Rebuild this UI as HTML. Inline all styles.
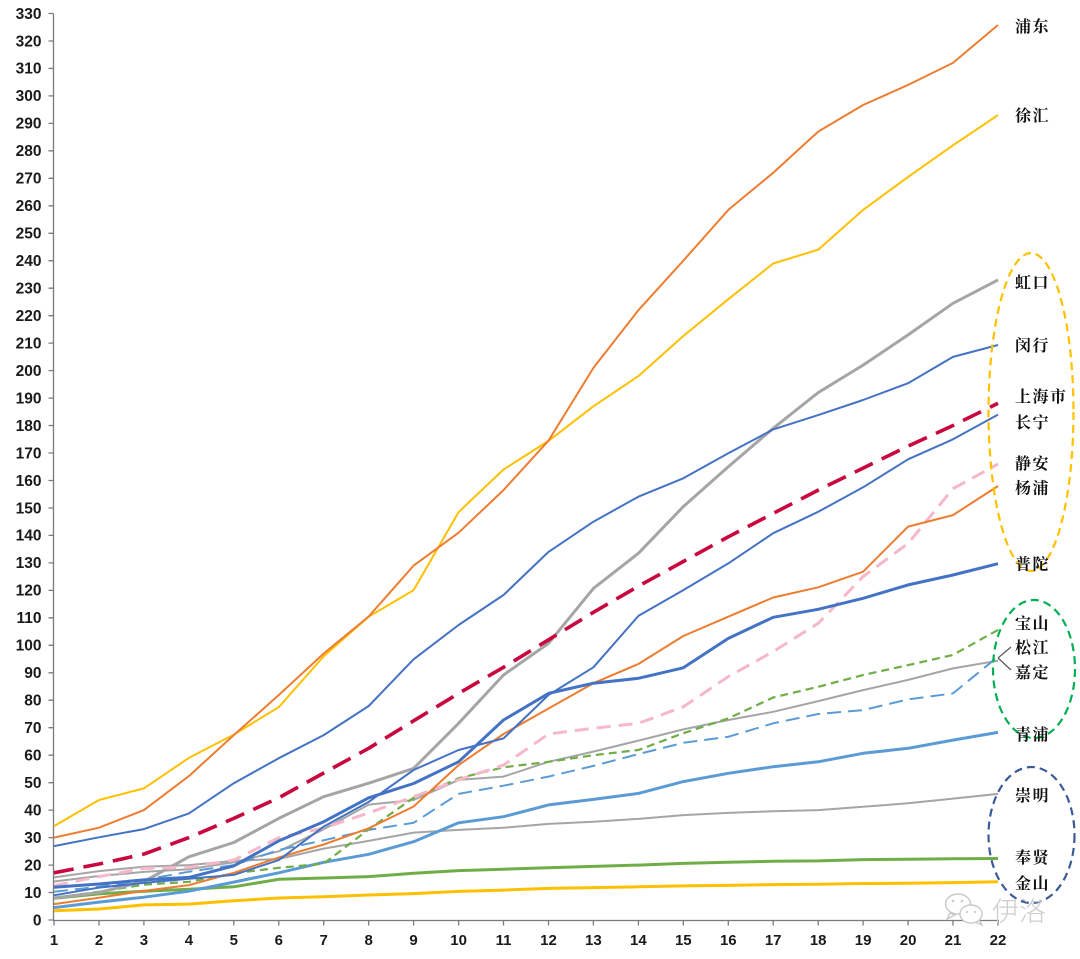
<!DOCTYPE html>
<html>
<head>
<meta charset="utf-8">
<style>
  html, body { margin: 0; padding: 0; background: #ffffff; }
  svg { display: block; }
  .yl { font-family: "Liberation Sans", Arial, sans-serif; font-weight: bold; font-size: 15.5px; fill: #1a1a1a; text-anchor: end; }
  .xl { font-family: "Liberation Sans", Arial, sans-serif; font-weight: bold; font-size: 15px; fill: #1a1a1a; text-anchor: middle; }
  .lab { font-family: "Liberation Serif", "Noto Serif CJK SC", "Noto Sans CJK SC", serif; font-weight: bold; font-size: 16px; fill: #111; letter-spacing: 1.5px; }
  .s { fill: none; stroke-linejoin: round; stroke-linecap: butt; }
</style>
</head>
<body>
<svg width="1080" height="959" viewBox="0 0 1080 959" xmlns="http://www.w3.org/2000/svg">
  <rect x="0" y="0" width="1080" height="959" fill="#ffffff"/>

  <!-- axes -->
  <g stroke="#7a7a7a" stroke-width="1.3" fill="none">
    <line x1="53.5" y1="13.5" x2="53.5" y2="920.5"/>
    <line x1="53" y1="920.5" x2="999" y2="920.5"/>
    <path d="M48.5 920H53.5 M48.5 892.5H53.5 M48.5 865.1H53.5 M48.5 837.6H53.5 M48.5 810.1H53.5 M48.5 782.7H53.5 M48.5 755.2H53.5 M48.5 727.7H53.5 M48.5 700.2H53.5 M48.5 672.8H53.5 M48.5 645.3H53.5 M48.5 617.8H53.5 M48.5 590.4H53.5 M48.5 562.9H53.5 M48.5 535.4H53.5 M48.5 508H53.5 M48.5 480.5H53.5 M48.5 453H53.5 M48.5 425.5H53.5 M48.5 398.1H53.5 M48.5 370.6H53.5 M48.5 343.1H53.5 M48.5 315.7H53.5 M48.5 288.2H53.5 M48.5 260.7H53.5 M48.5 233.3H53.5 M48.5 205.8H53.5 M48.5 178.3H53.5 M48.5 150.8H53.5 M48.5 123.4H53.5 M48.5 95.9H53.5 M48.5 68.4H53.5 M48.5 41H53.5 M48.5 13.5H53.5"/>
    <path d="M54 920V925.5 M99 920V925.5 M143.9 920V925.5 M188.9 920V925.5 M233.8 920V925.5 M278.8 920V925.5 M323.7 920V925.5 M368.7 920V925.5 M413.6 920V925.5 M458.6 920V925.5 M503.5 920V925.5 M548.5 920V925.5 M593.4 920V925.5 M638.4 920V925.5 M683.3 920V925.5 M728.3 920V925.5 M773.2 920V925.5 M818.2 920V925.5 M863.1 920V925.5 M908.1 920V925.5 M953 920V925.5 M998 920V925.5"/>
  </g>

  <!-- y labels -->
  <g class="yl">
    <text x="41.5" y="925.3">0</text>
    <text x="41.5" y="897.8">10</text>
    <text x="41.5" y="870.4">20</text>
    <text x="41.5" y="842.9">30</text>
    <text x="41.5" y="815.4">40</text>
    <text x="41.5" y="788.0">50</text>
    <text x="41.5" y="760.5">60</text>
    <text x="41.5" y="733.0">70</text>
    <text x="41.5" y="705.5">80</text>
    <text x="41.5" y="678.1">90</text>
    <text x="41.5" y="650.6">100</text>
    <text x="41.5" y="623.1">110</text>
    <text x="41.5" y="595.7">120</text>
    <text x="41.5" y="568.2">130</text>
    <text x="41.5" y="540.7">140</text>
    <text x="41.5" y="513.3">150</text>
    <text x="41.5" y="485.8">160</text>
    <text x="41.5" y="458.3">170</text>
    <text x="41.5" y="430.8">180</text>
    <text x="41.5" y="403.4">190</text>
    <text x="41.5" y="375.9">200</text>
    <text x="41.5" y="348.4">210</text>
    <text x="41.5" y="321.0">220</text>
    <text x="41.5" y="293.5">230</text>
    <text x="41.5" y="266.0">240</text>
    <text x="41.5" y="238.6">250</text>
    <text x="41.5" y="211.1">260</text>
    <text x="41.5" y="183.6">270</text>
    <text x="41.5" y="156.1">280</text>
    <text x="41.5" y="128.7">290</text>
    <text x="41.5" y="101.2">300</text>
    <text x="41.5" y="73.7">310</text>
    <text x="41.5" y="46.3">320</text>
    <text x="41.5" y="18.8">330</text>
  </g>

  <!-- x labels -->
  <g class="xl">
    <text x="54" y="945">1</text>
    <text x="99" y="945">2</text>
    <text x="143.9" y="945">3</text>
    <text x="188.9" y="945">4</text>
    <text x="233.8" y="945">5</text>
    <text x="278.8" y="945">6</text>
    <text x="323.7" y="945">7</text>
    <text x="368.7" y="945">8</text>
    <text x="413.6" y="945">9</text>
    <text x="458.6" y="945">10</text>
    <text x="503.5" y="945">11</text>
    <text x="548.5" y="945">12</text>
    <text x="593.4" y="945">13</text>
    <text x="638.4" y="945">14</text>
    <text x="683.3" y="945">15</text>
    <text x="728.3" y="945">16</text>
    <text x="773.2" y="945">17</text>
    <text x="818.2" y="945">18</text>
    <text x="863.1" y="945">19</text>
    <text x="908.1" y="945">20</text>
    <text x="953" y="945">21</text>
    <text x="998" y="945">22</text>
  </g>

  <!-- series -->
  <!-- 金山 -->
  <polyline class="s" stroke="#FFC000" stroke-width="3" points="54,910.7 99,909 143.9,904.9 188.9,904.1 233.8,900.8 278.8,898 323.7,896.7 368.7,895 413.6,893.6 458.6,891.4 503.5,890.1 548.5,888.4 593.4,887.6 638.4,886.8 683.3,885.9 728.3,885.4 773.2,884.6 818.2,884.3 863.1,883.5 908.1,883.2 953,882.6 998,881.8"/>
  <!-- 奉贤 -->
  <polyline class="s" stroke="#70AD47" stroke-width="3" points="54,898.3 99,893.9 143.9,891.2 188.9,889.2 233.8,886.8 278.8,879.3 323.7,878 368.7,876.6 413.6,873.3 458.6,870.6 503.5,869.2 548.5,867.8 593.4,866.4 638.4,865.1 683.3,863.4 728.3,862.3 773.2,861.2 818.2,860.9 863.1,859.6 908.1,859.3 953,858.7 998,858.5"/>
  <!-- 崇明 -->
  <polyline class="s" stroke="#A5A5A5" stroke-width="2" points="54,877.4 99,871.1 143.9,866.7 188.9,865.1 233.8,860.9 278.8,859 323.7,848.6 368.7,840.9 413.6,832.6 458.6,829.9 503.5,827.7 548.5,823.9 593.4,821.7 638.4,818.9 683.3,815.1 728.3,812.9 773.2,811.2 818.2,810.1 863.1,806.8 908.1,803.3 953,798.6 998,793.9"/>
  <!-- 青浦 -->
  <polyline class="s" stroke="#5B9BD5" stroke-width="3" points="54,907.6 99,902.1 143.9,897.2 188.9,891.2 233.8,882.1 278.8,872.8 323.7,862.3 368.7,854.3 413.6,841.7 458.6,822.8 503.5,816.7 548.5,804.9 593.4,799.4 638.4,793.4 683.3,781.6 728.3,773.3 773.2,766.7 818.2,761.8 863.1,753.3 908.1,748.3 953,740.1 998,732.4"/>
  <!-- 松江 -->
  <polyline class="s" stroke="#A5A5A5" stroke-width="2" points="54,881.5 99,876 143.9,871.9 188.9,869.2 233.8,862.3 278.8,851.3 323.7,829.3 368.7,804.6 413.6,800 458.6,779.9 503.5,776.6 548.5,761.8 593.4,751.6 638.4,740.6 683.3,729.4 728.3,720 773.2,711.8 818.2,701.1 863.1,690.1 908.1,679.9 953,668.4 998,660.7"/>
  <!-- 嘉定 -->
  <polyline class="s" stroke="#5B9BD5" stroke-width="2" stroke-dasharray="14 7" points="54,891.7 99,886.8 143.9,879.9 188.9,871.7 233.8,865.1 278.8,850 323.7,840.3 368.7,829.9 413.6,822.8 458.6,793.9 503.5,785.7 548.5,776.6 593.4,765.9 638.4,754.1 683.3,742.8 728.3,736.8 773.2,723.3 818.2,714 863.1,710.1 908.1,699.4 953,693.4 998,656.6"/>
  <!-- 宝山 -->
  <polyline class="s" stroke="#70AD47" stroke-width="2.2" stroke-dasharray="8 5" points="54,898 99,891.7 143.9,884.6 188.9,881.8 233.8,873.3 278.8,867.8 323.7,863.7 368.7,829.3 413.6,797.8 458.6,778.3 503.5,767.3 548.5,761.8 593.4,755.2 638.4,750 683.3,733.2 728.3,718.4 773.2,697.5 818.2,686.8 863.1,675 908.1,665.1 953,654.9 998,629.9"/>
  <!-- 虹口 -->
  <polyline class="s" stroke="#A5A5A5" stroke-width="3" points="54,898 99,892.5 143.9,881.5 188.9,856.8 233.8,842.5 278.8,818.4 323.7,796.7 368.7,783.2 413.6,768.4 458.6,723.3 503.5,675 548.5,643.4 593.4,588.4 638.4,553.3 683.3,506.6 728.3,466.7 773.2,428.3 818.2,392.6 863.1,365.1 908.1,334.9 953,303.3 998,279.9"/>
  <!-- 静安 -->
  <polyline class="s" stroke="#F6B8C8" stroke-width="3" stroke-dasharray="14 8" points="54,885.7 99,876.6 143.9,868.4 188.9,867.3 233.8,860.1 278.8,837.6 323.7,828 368.7,812.9 413.6,796.7 458.6,779.9 503.5,765.1 548.5,734 593.4,728.3 638.4,723.3 683.3,706.8 728.3,676.6 773.2,651.6 818.2,623.3 863.1,576.6 908.1,543.4 953,488.7 998,464"/>
  <!-- 杨浦 -->
  <polyline class="s" stroke="#ED7D31" stroke-width="2" points="54,904.1 99,897.7 143.9,890.9 188.9,885.1 233.8,872.8 278.8,857.4 323.7,844.5 368.7,828.3 413.6,806.5 458.6,765.1 503.5,734 548.5,708.5 593.4,683.2 638.4,664 683.3,636 728.3,616.7 773.2,597.5 818.2,587.3 863.1,571.7 908.1,526.6 953,515.1 998,486"/>
  <!-- 普陀 -->
  <polyline class="s" stroke="#4472C4" stroke-width="3" points="54,887.3 99,884 143.9,879.9 188.9,877.4 233.8,865.9 278.8,840.9 323.7,821.7 368.7,797.8 413.6,783.5 458.6,761.8 503.5,720 548.5,693.4 593.4,683.2 638.4,678.3 683.3,667.8 728.3,638.4 773.2,617.3 818.2,609.3 863.1,598.3 908.1,584.9 953,575 998,563.7"/>
  <!-- 长宁 -->
  <polyline class="s" stroke="#4472C4" stroke-width="2" points="54,895.3 99,887.6 143.9,882.9 188.9,878.8 233.8,874.9 278.8,860.1 323.7,826.6 368.7,801.9 413.6,770 458.6,750 503.5,738.4 548.5,695 593.4,667.3 638.4,615.9 683.3,590.1 728.3,563.4 773.2,533.2 818.2,511.8 863.1,487.3 908.1,459.3 953,439.3 998,414.6"/>
  <!-- 闵行 -->
  <polyline class="s" stroke="#4472C4" stroke-width="2" points="54,846.1 99,837.3 143.9,829.1 188.9,813.4 233.8,783.2 278.8,758.2 323.7,735.1 368.7,706 413.6,659.3 458.6,625 503.5,595 548.5,551.9 593.4,521.7 638.4,496.7 683.3,478.3 728.3,453.3 773.2,429.4 818.2,415.1 863.1,400 908.1,383.2 953,356.9 998,345"/>
  <!-- 上海市 -->
  <polyline class="s" stroke="#C8073E" stroke-width="3.6" stroke-dasharray="20 10" points="54,872.8 99,864 143.9,854.1 188.9,837.6 233.8,818.4 278.8,797.8 323.7,773 368.7,748.3 413.6,720.8 458.6,693.4 503.5,667.3 548.5,639.8 593.4,612.3 638.4,586.2 683.3,561.5 728.3,536.8 773.2,513.4 818.2,490.1 863.1,468.1 908.1,446.1 953,425.5 998,403.3"/>
  <!-- 徐汇 -->
  <polyline class="s" stroke="#FFC000" stroke-width="2" points="54,826.1 99,800 143.9,788.4 188.9,757.9 233.8,734.6 278.8,707.1 323.7,656.3 368.7,616.7 413.6,590.1 458.6,512.1 503.5,469.5 548.5,440.9 593.4,406.3 638.4,376.1 683.3,336 728.3,299.2 773.2,263.5 818.2,249.7 863.1,209.9 908.1,176.9 953,145.3 998,115.1"/>
  <!-- 浦东 -->
  <polyline class="s" stroke="#ED7D31" stroke-width="2" points="54,837.6 99,827.7 143.9,810.1 188.9,776.1 233.8,735.1 278.8,695 323.7,653.5 368.7,616.5 413.6,565.6 458.6,532.7 503.5,490.1 548.5,440.7 593.4,367.9 638.4,310.2 683.3,260.7 728.3,209.9 773.2,172.8 818.2,131.6 863.1,105 908.1,84.9 953,62.9 998,25"/>

  <!-- ellipses -->
  <ellipse cx="1031" cy="412" rx="42.5" ry="159" fill="none" stroke="#FFC000" stroke-width="2.2" stroke-dasharray="8 5"/>
  <ellipse cx="1034" cy="669" rx="41" ry="69" fill="none" stroke="#00B050" stroke-width="2.2" stroke-dasharray="8 5"/>
  <ellipse cx="1031.5" cy="835" rx="43" ry="68" fill="none" stroke="#3A5A98" stroke-width="2.2" stroke-dasharray="8 5"/>

  <!-- leader lines 松江 / 嘉定 -->
  <g stroke="#595959" stroke-width="1.2" fill="none">
    <line x1="998" y1="658" x2="1011" y2="647"/>
    <line x1="998" y1="658" x2="1011" y2="670"/>
  </g>

  <!-- labels -->
  <g class="lab">
    <text x="1015" y="32">浦东</text>
    <text x="1015" y="121">徐汇</text>
    <text x="1015" y="288">虹口</text>
    <text x="1015" y="351">闵行</text>
    <text x="1015" y="402">上海市</text>
    <text x="1015" y="428">长宁</text>
    <text x="1015" y="469">静安</text>
    <text x="1015" y="493.5">杨浦</text>
    <text x="1015" y="569.5">普陀</text>
    <text x="1015" y="629">宝山</text>
    <text x="1015" y="653">松江</text>
    <text x="1015" y="678">嘉定</text>
    <text x="1015" y="740">青浦</text>
    <text x="1015" y="801">崇明</text>
    <text x="1015" y="863">奉贤</text>
    <text x="1015" y="889">金山</text>
  </g>

  <!-- watermark -->
  <g stroke="#c9c9c9" stroke-width="1.4" fill="#ffffff">
    <path d="M950 913 L947 919 L955 915 Z"/>
    <ellipse cx="958" cy="904" rx="12.5" ry="10"/>
    <path d="M979 920 L982 925 L975 922 Z"/>
    <ellipse cx="971" cy="914" rx="11" ry="9"/>
  </g>
  <g fill="#c9c9c9">
    <circle cx="953" cy="901" r="1.3"/>
    <circle cx="962" cy="901" r="1.3"/>
    <circle cx="967" cy="912" r="1.1"/>
    <circle cx="975" cy="912" r="1.1"/>
  </g>
  <text x="992" y="921" font-family="'Liberation Sans', 'Noto Sans CJK SC', sans-serif" font-size="27" font-weight="300" fill="#cdcdcd">伊洛</text>
</svg>
</body>
</html>
